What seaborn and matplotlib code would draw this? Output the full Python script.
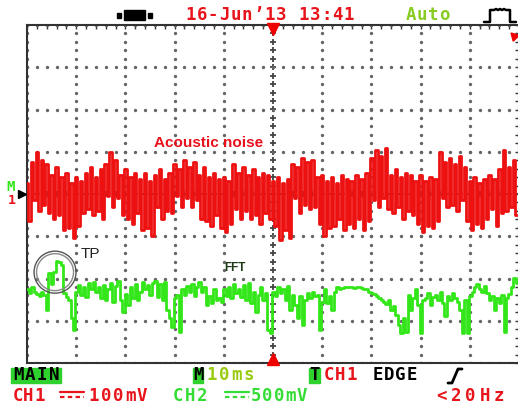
import numpy as np
import matplotlib
matplotlib.use('Agg')
import matplotlib.pyplot as plt
from matplotlib.lines import Line2D
from matplotlib.patches import Rectangle, Ellipse
import seaborn as sns

# CH1 (acoustic noise), mV at 100 mV/div, one bar per ms: top then bottom
red_hi = [25, 75, 100, 80, 70, 45, 65, 40, 50, 25,
          40, 30, 50, 65, 40, 60, 70, 100, 80, 45,
          60, 40, 50, 35, 50, 30, 45, 60, 35, 50,
          70, 60, 80, 65, 75, 45, 65, 40, 50, 35,
          40, 30, 70, 50, 65, 45, 60, 40, 50, 45,
          30, 40, 25, 35, 70, 65, 85, 75, 80, 40,
          45, 30, 40, 25, 45, 35, 30, 45, 35, 50,
          85, 105, 90, 110, 45, 60, 40, 50, 45, 30,
          45, 30, 40, 35, 100, 75, 85, 70, 90, 65,
          30, 40, 25, 35, 45, 35, 60, 105, 65, 80]
red_lo = [-65, -15, -40, -25, -45, -60, -50, -85, -80, -105,
          -75, -45, -35, -50, -40, -60, -5, -30, -10, -50,
          -60, -70, -45, -85, -80, -100, -30, -60, -40, -45,
          -5, -30, -10, -30, -15, -60, -65, -75, -50, -80,
          -90, -70, -35, -60, -40, -60, -50, -70, -45, -60,
          -75, -110, -85, -105, -10, -45, -25, -35, -30, -70,
          -100, -80, -75, -60, -85, -70, -80, -60, -85, -65,
          -15, -30, -10, -35, -45, -30, -60, -40, -50, -70,
          -90, -75, -80, -65, -10, -30, -25, -40, -15, -65,
          -85, -70, -80, -60, -35, -75, -45, -40, -30, -50]

# CH2 (FFT), mV at 500 mV/div relative to its ground, one sample per 0.5 ms
green_mv = [120, 84, 144, 96, 72, 48, 96, 60, -120, 312,
            180, 324, 456, 444, 408, 84, 36, 0, -216, -360,
            96, 168, 60, 144, 36, 192, 120, 204, 96, 144,
            24, 168, 0, 120, 192, -24, 156, 216, 0, -144,
            72, -60, 144, 24, 180, 0, 96, 204, 120, 168,
            60, 192, 216, 36, 180, 0, 204, -120, -216, -324,
            24, 60, -384, 120, 60, 156, 96, 180, 48, 144,
            204, 96, 144, -60, 48, -36, 120, 0, 24, -24,
            120, 48, 144, 24, 180, 84, 120, 36, 168, 0,
            192, -36, 96, -144, 60, 144, 0, 84, -360, -396,
            96, 48, 144, 84, 120, 0, 156, -120, 60, -60,
            -216, 48, -300, 0, 84, 24, 96, 48, 60, -360,
            -24, 120, -36, 48, -120, 96, 144, 120, 132, 144,
            144, 144, 144, 132, 144, 144, 132, 120, 120, 96,
            84, 72, 48, 24, 0, -24, -48, 0, -120, -72,
            -180, -300, -396, -216, -384, 60, -120, 24, 120, -60,
            -396, 0, 24, 84, -60, 36, 60, 0, 96, -36,
            -192, 48, 0, 84, 24, -24, -120, -396, 0, -396,
            48, 96, 144, 180, 120, 96, 156, 84, 0, 48,
            -120, 24, -36, 60, -384, 24, 72, 144, 252, 192]
CH2_OFFSET = -2.5  # divisions

RED = '#ee1111'
GREEN = '#33e619'
TXT_RED = '#e8141b'
TXT_GREEN = '#33dd33'
BOX_GREEN = '#2ed12e'

fig = plt.figure(figsize=(5.18, 4.05), dpi=100)
sns.set_style('white')
ax = fig.add_axes([27 / 518, 42 / 405, 492 / 518, 338 / 405])

# dotted graticule
for k in range(11):
    yy = np.arange(-4, 4.01, 0.2)
    if k == 5:
        ax.plot(np.full_like(yy, 50), yy, ls='none', marker='+', ms=4.5, mew=1.3, color='#444', zorder=1)
    else:
        ax.plot(np.full_like(yy, 10 * k), yy, ls='none', marker='o', ms=1.4, color='#666', zorder=1)
for m in range(-4, 5):
    xx = np.arange(0, 100.01, 2)
    if m == 0:
        ax.plot(xx, np.zeros_like(xx), ls='none', marker='+', ms=4.5, mew=1.3, color='#444', zorder=1)
    else:
        ax.plot(xx, np.full_like(xx, m), ls='none', marker='o', ms=1.4, color='#666', zorder=1)

# traces
t_red = np.repeat(np.arange(len(red_hi)) * 1.0, 2) + np.tile([0.0, 0.5], len(red_hi))
y_red = np.column_stack([red_hi, red_lo]).ravel() / 100.0
sns.lineplot(x=t_red, y=y_red, ax=ax, color=RED, linewidth=2.0,
             drawstyle='steps-mid', sort=False, estimator=None, zorder=3)

t_green = np.arange(len(green_mv)) * 0.5 + 0.1
y_green = np.array(green_mv) / 500.0 + CH2_OFFSET
sns.lineplot(x=t_green, y=y_green, ax=ax, color=GREEN, linewidth=2.0,
             drawstyle='steps-mid', sort=False, estimator=None, zorder=3)

ax.set_xlim(0, 100)
ax.set_ylim(-4, 4)
ax.set_xticks(np.arange(0, 101, 10))
ax.set_xticks(np.arange(0, 101, 2), minor=True)
ax.set_yticks(np.arange(-4, 5, 1))
ax.set_yticks(np.arange(-4, 4.01, 0.2), minor=True)
ax.tick_params(which='both', direction='in', length=3, width=1, color='#333',
               top=True, right=True, labelbottom=False, labelleft=False)
for s in ax.spines.values():
    s.set_color('#333')
    s.set_linewidth(1.5)
ax.set_xlabel('')
ax.set_ylabel('')

# markers
ax.plot([50], [3.9], marker='v', ms=8, color='#ee0000', clip_on=False, zorder=5)
ax.plot([50], [-3.9], marker='^', ms=8, color='#ee0000', clip_on=False, zorder=5)
ax.plot([-1.0], [0], marker='>', ms=6, color='black', clip_on=False, zorder=5)
ax.plot([99.0], [3.75], marker=(3, 0, 45), ms=7, color='#ee0000', clip_on=False, zorder=5)

# annotations
ax.text(25.8, 1.2, 'Acoustic noise', color='#e8101a', fontsize=11, fontweight='bold',
        family='Liberation Sans', va='center', ha='left')
ax.text(11, -1.42, 'TP', color='#222', fontsize=11, family='Liberation Sans', va='center')
ax.text(40, -1.75, 'FFT', color='#1e3a14', fontsize=8.5, fontweight='bold',
        family='Liberation Sans', va='center')
for r, c in [(21, '#555'), (18.5, '#888')]:
    ax.add_patch(Ellipse((5.7, -1.85), 2 * r / 49.2 * 10, 2 * r / 42.25,
                         fill=False, lw=1.0, edgecolor=c, zorder=4))

fig.text(6 / 518, 1 - 187 / 405, 'M', color=GREEN, fontsize=10, fontweight='bold',
         family='DejaVu Sans Mono', va='center')
fig.text(8 / 518, 1 - 200 / 405, '1', color='#e8101a', fontsize=9.5, fontweight='bold',
         family='DejaVu Sans Mono', va='center')


# scope-style text: fixed pitch per character
def mono(px, py, s, color, pitch=11.3, size=12.5, weight='bold'):
    for i, ch in enumerate(s):
        fig.text((px + pitch * (i + 0.5)) / 518, 1 - py / 405, ch, color=color,
                 fontsize=size, family='DejaVu Sans Mono', fontweight=weight,
                 va='center', ha='center')


def box(x0, x1, y0, y1, color):
    fig.add_artist(Rectangle((x0 / 518, 1 - y1 / 405), (x1 - x0) / 518, (y1 - y0) / 405,
                             color=color, transform=fig.transFigure, zorder=0))


# header
mono(185, 15, '16-Jun\u201913 13:41', TXT_RED)
mono(405, 15, 'Auto', '#88cc22')
box(117, 121, 13, 18, 'black')
box(124, 145, 10, 20, 'black')
box(148, 152, 13, 18, 'black')
px = np.array([484, 490, 490, 494, 496, 498, 500, 502, 504, 506, 510, 510, 516])
py = np.array([22, 22, 10, 10, 9, 10, 9, 10, 9, 10, 10, 22, 22])
fig.add_artist(Line2D(px / 518, 1 - py / 405, color='black', lw=1.8, transform=fig.transFigure))

# footer row 1
box(11, 61, 368, 383, BOX_GREEN)
mono(12, 375, 'MAIN', 'black', pitch=12)
box(193, 203, 368, 383, BOX_GREEN)
mono(193, 375, 'M', 'black', pitch=10)
mono(205, 375, '10ms', '#99cc11', pitch=12.5)
box(309, 320, 368, 383, BOX_GREEN)
mono(309, 375, 'T', 'black', pitch=11)
mono(323, 375, 'CH1', TXT_RED)
mono(372, 375, 'EDGE', 'black')
sx = np.array([448, 452, 458, 462])
sy = np.array([383, 383, 369, 369])
fig.add_artist(Line2D(sx / 518, 1 - sy / 405, color='black', lw=2, transform=fig.transFigure))

# footer row 2
mono(12, 396, 'CH1', TXT_RED, pitch=11)
mono(88, 396, '100mV', TXT_RED, pitch=12)
mono(172, 396, 'CH2', TXT_GREEN, pitch=12)
mono(250, 396, '500mV', TXT_GREEN, pitch=11.6)
mono(434, 396, '<20Hz', TXT_RED, pitch=14.5)
for x0, col in [(60, TXT_RED), (225, TXT_GREEN)]:
    fig.add_artist(Line2D([x0 / 518, (x0 + 24) / 518], [1 - 392 / 405] * 2, color=col, lw=1.6,
                          transform=fig.transFigure))
    fig.add_artist(Line2D([x0 / 518, (x0 + 24) / 518], [1 - 397 / 405] * 2, color=col, lw=1.6,
                          ls=(0, (2, 1.5)), transform=fig.transFigure))

fig.savefig('out.png', dpi=100)
